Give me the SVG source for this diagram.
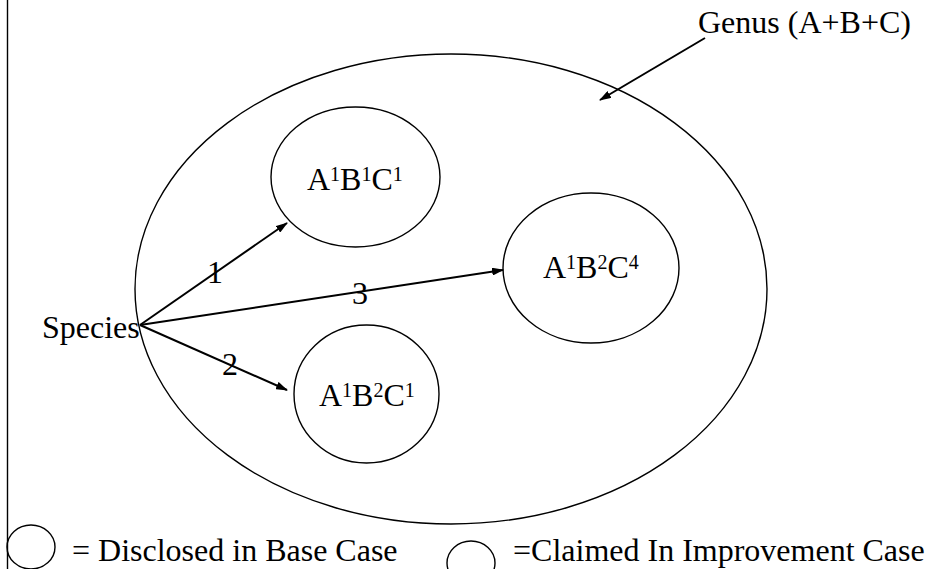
<svg xmlns="http://www.w3.org/2000/svg" width="926" height="569" viewBox="0 0 926 569">
<style>
  .ell { fill: none; stroke: #000; stroke-width: 1.4; }
  .txt { font-family: "Liberation Serif", "Times New Roman", serif; font-size: 32px; fill: #000; }
  .sup { font-size: 20px; }
  .conn { stroke: #000; stroke-width: 2; fill: none; marker-end: url(#arr); }
</style>
<defs>
  <marker id="arr" markerUnits="userSpaceOnUse" markerWidth="12" markerHeight="8" refX="11" refY="4" orient="auto">
    <path d="M0,0 L12,4 L0,8 Z" fill="#000"/>
  </marker>
</defs>
<rect width="926" height="569" fill="#fff"/>
<line x1="7.5" y1="0" x2="7.5" y2="569" stroke="#000" stroke-width="1.4"/>

<g id="genus">
  <ellipse class="ell" cx="451" cy="289" rx="316" ry="235"/>
  <text class="txt" x="698" y="33">Genus (A+B+C)</text>
</g>
<g id="species">
  <text class="txt" x="42" y="338">Species</text>
</g>
<g id="a1b1c1">
  <ellipse class="ell" cx="355.5" cy="177" rx="84.5" ry="70"/>
  <text class="txt" x="307" y="190">A<tspan class="sup" dy="-9">1</tspan><tspan dy="9">B</tspan><tspan class="sup" dy="-9">1</tspan><tspan dy="9">C</tspan><tspan class="sup" dy="-9">1</tspan></text>
</g>
<g id="a1b2c4">
  <ellipse class="ell" cx="591" cy="268" rx="88" ry="75"/>
  <text class="txt" x="543" y="278">A<tspan class="sup" dy="-9">1</tspan><tspan dy="9">B</tspan><tspan class="sup" dy="-9">2</tspan><tspan dy="9">C</tspan><tspan class="sup" dy="-9">4</tspan></text>
</g>
<g id="a1b2c1">
  <ellipse class="ell" cx="366.5" cy="394" rx="72.5" ry="69"/>
  <text class="txt" x="319" y="406">A<tspan class="sup" dy="-9">1</tspan><tspan dy="9">B</tspan><tspan class="sup" dy="-9">2</tspan><tspan dy="9">C</tspan><tspan class="sup" dy="-9">1</tspan></text>
</g>

<g id="connectors">
  <line class="conn" x1="140" y1="325" x2="287" y2="223"/>
  <line class="conn" x1="140" y1="325" x2="503" y2="270"/>
  <line class="conn" x1="140" y1="325" x2="287" y2="390"/>
  <line class="conn" x1="705" y1="38" x2="600" y2="100"/>
  <text class="txt" x="207" y="283">1</text>
  <text class="txt" x="352" y="304">3</text>
  <text class="txt" x="222" y="375">2</text>
</g>

<g id="legend">
  <ellipse class="ell" cx="31" cy="547" rx="24" ry="22"/>
  <text class="txt" x="72" y="561">= Disclosed in Base Case</text>
  <ellipse class="ell" cx="471" cy="563" rx="24" ry="22"/>
  <text class="txt" x="513" y="561">=Claimed In Improvement Case</text>
</g>
</svg>
